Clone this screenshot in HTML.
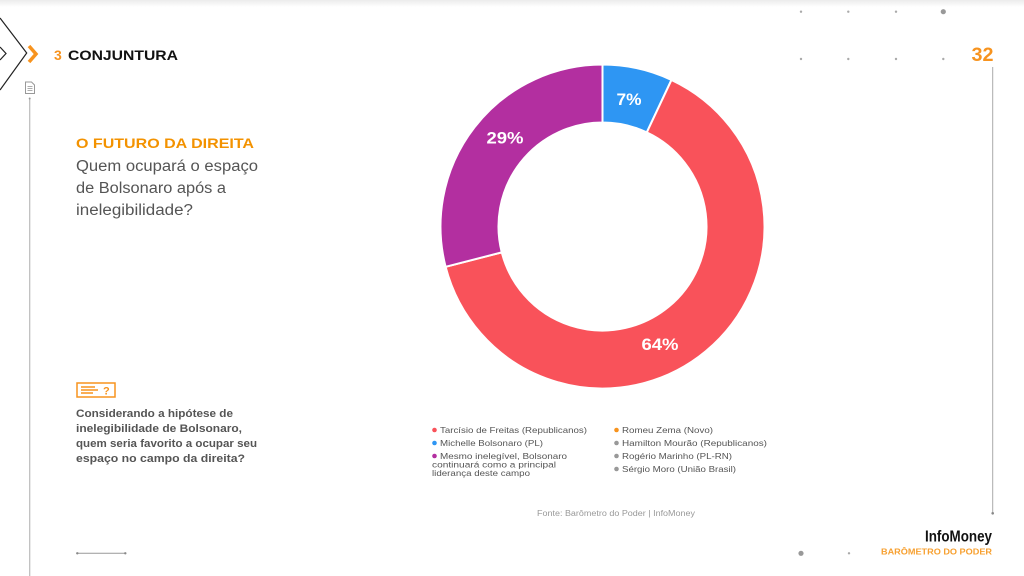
<!DOCTYPE html>
<html><head><meta charset="utf-8"><style>
html,body{margin:0;padding:0;background:#fff;}
svg{display:block;}
text{font-family:"Liberation Sans",sans-serif;}
</style></head><body>
<svg width="1024" height="576" viewBox="0 0 1024 576" xmlns="http://www.w3.org/2000/svg">
<defs><linearGradient id="tg" x1="0" y1="0" x2="0" y2="1"><stop offset="0" stop-color="#ececec"/><stop offset="1" stop-color="#ffffff"/></linearGradient></defs>
<rect width="1024" height="576" fill="#fff"/>
<rect width="1024" height="7" fill="url(#tg)"/>
<!-- left decorations -->
<polyline points="0,18 26.7,53 0,90" fill="none" stroke="#222" stroke-width="1.2"/>
<polyline points="0,47 6,53.5 0,60" fill="none" stroke="#222" stroke-width="1.2"/>
<polyline points="29,46 36,54 29,62" fill="none" stroke="#f7931e" stroke-width="3.5"/>
<text x="54" y="60" font-size="14" font-weight="bold" fill="#f7931e">3</text>
<text x="68" y="60" font-size="14" font-weight="bold" fill="#111" textLength="110" lengthAdjust="spacingAndGlyphs">CONJUNTURA</text>
<!-- doc icon -->
<path d="M25.5,82 h6 l3,3 v8.5 h-9 z" fill="none" stroke="#999" stroke-width="1"/>
<line x1="27.5" y1="86.5" x2="32.5" y2="86.5" stroke="#999" stroke-width="0.8"/>
<line x1="27.5" y1="88.5" x2="32.5" y2="88.5" stroke="#999" stroke-width="0.8"/>
<line x1="27.5" y1="90.5" x2="32.5" y2="90.5" stroke="#999" stroke-width="0.8"/>
<line x1="29.7" y1="98" x2="29.7" y2="576" stroke="#bbb" stroke-width="1.2"/>
<circle cx="29.7" cy="98.5" r="1" fill="#999"/>
<!-- left text -->
<text x="76" y="148" font-size="14" font-weight="bold" fill="#f39200" textLength="178" lengthAdjust="spacingAndGlyphs">O FUTURO DA DIREITA</text>
<text x="76" y="171" font-size="15.5" fill="#555" textLength="182" lengthAdjust="spacingAndGlyphs">Quem ocupará o espaço</text>
<text x="76" y="193" font-size="15.5" fill="#555" textLength="150" lengthAdjust="spacingAndGlyphs">de Bolsonaro após a</text>
<text x="76" y="215" font-size="15.5" fill="#555" textLength="117" lengthAdjust="spacingAndGlyphs">inelegibilidade?</text>
<!-- question icon -->
<rect x="77" y="383" width="38" height="14" fill="none" stroke="#f7931e" stroke-width="1.5"/>
<line x1="81" y1="387" x2="95" y2="387" stroke="#f7931e" stroke-width="1.5"/>
<line x1="81" y1="390" x2="98" y2="390" stroke="#f7931e" stroke-width="1.5"/>
<line x1="81" y1="393" x2="93" y2="393" stroke="#f7931e" stroke-width="1.5"/>
<text x="103" y="394.5" font-size="11" font-weight="bold" fill="#f7931e">?</text>
<text x="76" y="417" font-size="11" font-weight="bold" fill="#555" textLength="157" lengthAdjust="spacingAndGlyphs">Considerando a hipótese de</text>
<text x="76" y="432" font-size="11" font-weight="bold" fill="#555" textLength="166" lengthAdjust="spacingAndGlyphs">inelegibilidade de Bolsonaro,</text>
<text x="76" y="447" font-size="11" font-weight="bold" fill="#555" textLength="181" lengthAdjust="spacingAndGlyphs">quem seria favorito a ocupar seu</text>
<text x="76" y="462" font-size="11" font-weight="bold" fill="#555" textLength="169" lengthAdjust="spacingAndGlyphs">espaço no campo da direita?</text>
<line x1="77.3" y1="553.3" x2="125.3" y2="553.3" stroke="#999" stroke-width="1"/>
<circle cx="77.3" cy="553.3" r="1.2" fill="#888"/>
<circle cx="125.3" cy="553.3" r="1.2" fill="#888"/>
<!-- donut -->
<g stroke="#fff" stroke-width="2" stroke-linejoin="round">
<path d="M602.5,64.5 A162,162 0 0 1 671.48,79.92 L646.78,132.40 A104,104 0 0 0 602.5,122.5 Z" fill="#2e96f3"/>
<path d="M671.48,79.92 A162,162 0 1 1 445.59,266.79 L501.77,252.36 A104,104 0 1 0 646.78,132.40 Z" fill="#f9525a"/>
<path d="M445.59,266.79 A162,162 0 0 1 602.5,64.5 L602.5,122.5 A104,104 0 0 0 501.77,252.36 Z" fill="#b32fa0"/>
</g>
<text x="629" y="105" font-size="16.5" font-weight="bold" fill="#fff" text-anchor="middle" textLength="25" lengthAdjust="spacingAndGlyphs">7%</text>
<text x="505" y="143.5" font-size="16.5" font-weight="bold" fill="#fff" text-anchor="middle" textLength="37" lengthAdjust="spacingAndGlyphs">29%</text>
<text x="660" y="350" font-size="16.5" font-weight="bold" fill="#fff" text-anchor="middle" textLength="37" lengthAdjust="spacingAndGlyphs">64%</text>
<!-- legend -->
<g font-size="8.7" fill="#555">
<circle cx="434.5" cy="430" r="2.3" fill="#f9525a"/>
<text x="440" y="433" textLength="147" lengthAdjust="spacingAndGlyphs">Tarcísio de Freitas (Republicanos)</text>
<circle cx="434.5" cy="443" r="2.3" fill="#2e96f3"/>
<text x="440" y="446" textLength="103" lengthAdjust="spacingAndGlyphs">Michelle Bolsonaro (PL)</text>
<circle cx="434.5" cy="456" r="2.3" fill="#b32fa0"/>
<text x="440" y="459" textLength="127" lengthAdjust="spacingAndGlyphs">Mesmo inelegível, Bolsonaro</text>
<text x="432" y="467.5" textLength="124" lengthAdjust="spacingAndGlyphs">continuará como a principal</text>
<text x="432" y="476" textLength="98" lengthAdjust="spacingAndGlyphs">liderança deste campo</text>
<circle cx="616.5" cy="430" r="2.3" fill="#f7931e"/>
<text x="622" y="433" textLength="91" lengthAdjust="spacingAndGlyphs">Romeu Zema (Novo)</text>
<circle cx="616.5" cy="443" r="2.3" fill="#999"/>
<text x="622" y="446" textLength="145" lengthAdjust="spacingAndGlyphs">Hamilton Mourão (Republicanos)</text>
<circle cx="616.5" cy="456" r="2.3" fill="#999"/>
<text x="622" y="459" textLength="110" lengthAdjust="spacingAndGlyphs">Rogério Marinho (PL-RN)</text>
<circle cx="616.5" cy="469" r="2.3" fill="#999"/>
<text x="622" y="472" textLength="114" lengthAdjust="spacingAndGlyphs">Sérgio Moro (União Brasil)</text>
</g>
<text x="537" y="516" font-size="7.8" fill="#999" textLength="158" lengthAdjust="spacingAndGlyphs">Fonte: Barômetro do Poder | InfoMoney</text>
<!-- right decorations -->
<g fill="#aaa">
<circle cx="801" cy="11.7" r="1.2"/><circle cx="848.3" cy="11.7" r="1.2"/><circle cx="896" cy="11.7" r="1.2"/>
<circle cx="943.3" cy="11.7" r="2.6" fill="#999"/>
<circle cx="801" cy="59" r="1.2"/><circle cx="848.3" cy="59" r="1.2"/><circle cx="896" cy="59" r="1.2"/><circle cx="943.3" cy="59" r="1.2"/>
<circle cx="801" cy="553.3" r="2.6" fill="#999"/><circle cx="849" cy="553.3" r="1.2"/>
</g>
<text x="971.5" y="61" font-size="19.5" font-weight="bold" fill="#f7931e" textLength="22" lengthAdjust="spacingAndGlyphs">32</text>
<line x1="992.7" y1="67" x2="992.7" y2="513" stroke="#aaa" stroke-width="1"/>
<circle cx="992.7" cy="513.3" r="1.3" fill="#888"/>
<text x="992" y="541.7" font-size="15.5" font-weight="bold" fill="#111" text-anchor="end" textLength="67" lengthAdjust="spacingAndGlyphs">InfoMoney</text>
<text x="992" y="554.5" font-size="8.4" font-weight="bold" fill="#f7a030" text-anchor="end" textLength="111" lengthAdjust="spacingAndGlyphs">BARÔMETRO DO PODER</text>
</svg>
</body></html>
